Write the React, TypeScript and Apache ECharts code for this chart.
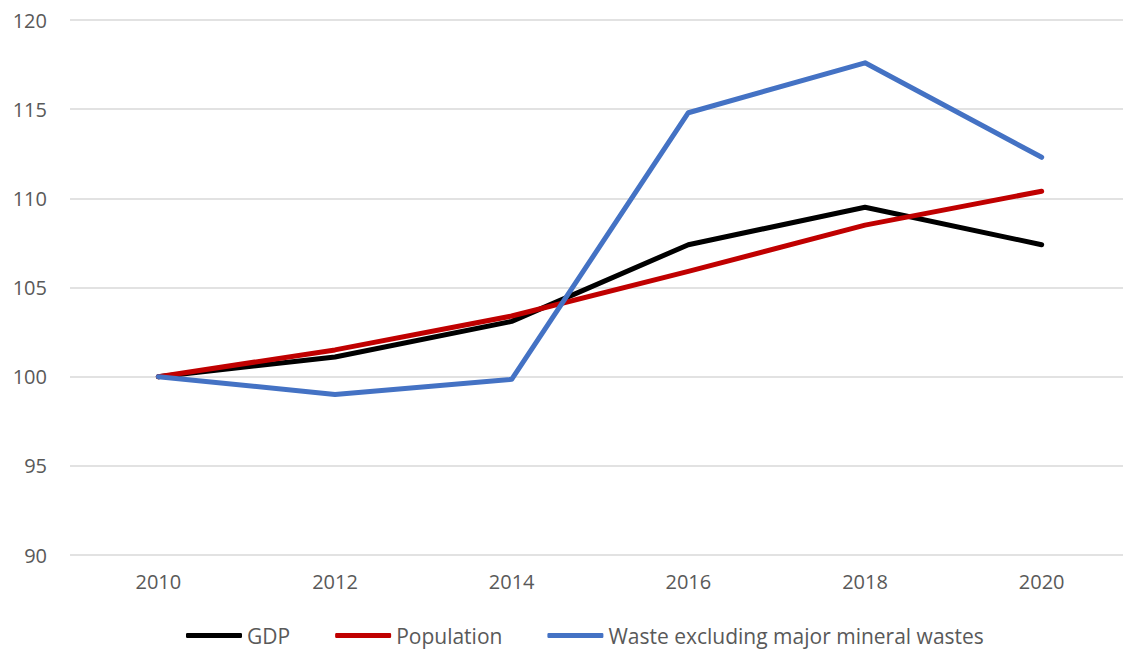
import React, { useEffect, useRef } from "react";
import * as echarts from "echarts";

const years = ["2010", "2012", "2014", "2016", "2018", "2020"];
const gdp = [100, 101.1, 103.1, 107.4, 109.5, 107.4];
const population = [100, 101.5, 103.4, 105.9, 108.5, 110.4];
const waste = [100, 99.0, 99.85, 114.8, 117.6, 112.3];
const seriesNames = ["GDP", "Population", "Waste excluding major mineral wastes"];
const colors = ["#000000", "#C00000", "#4472C4"];

export default function App() {
  const ref = useRef<HTMLDivElement>(null);
  useEffect(() => {
    if (!ref.current) return;
    const chart = echarts.init(ref.current, null, { renderer: "svg" });
    const font = "Open Sans";
    const datasets = [gdp, population, waste];
    chart.setOption({
      animation: false,
      textStyle: { fontFamily: font },
      grid: { left: 70, right: 0, top: 20, bottom: 100, containLabel: false },
      legend: {
        bottom: 4,
        left: 181,
        itemWidth: 56,
        itemHeight: 5,
        itemGap: 45,
        icon: "roundRect",
        data: seriesNames,
        textStyle: { color: "#595959", fontSize: 21, fontFamily: font },
      },
      xAxis: {
        type: "category",
        data: years,
        boundaryGap: true,
        axisLine: { show: false },
        axisTick: { show: false },
        axisLabel: { color: "#595959", fontSize: 20, margin: 16, fontFamily: font },
      },
      yAxis: {
        type: "value",
        min: 90,
        max: 120,
        interval: 5,
        axisLine: { show: false },
        axisTick: { show: false },
        splitLine: { lineStyle: { color: "#D9D9D9", width: 1.5 } },
        axisLabel: { color: "#595959", fontSize: 20, margin: 23, fontFamily: font },
      },
      series: seriesNames.map((name, i) => ({
        name,
        type: "line",
        data: datasets[i],
        symbol: "none",
        lineStyle: { color: colors[i], width: 5, cap: "round", join: "round" },
        itemStyle: { color: colors[i] },
      })),
    });
    return () => chart.dispose();
  }, []);
  return (
    <div
      style={{ position: "absolute", left: 0, top: 0, width: 1123, height: 655, overflow: "hidden", background: "#fff" }}
    >
      <div ref={ref} style={{ width: 1130, height: 655 }} />
    </div>
  );
}
